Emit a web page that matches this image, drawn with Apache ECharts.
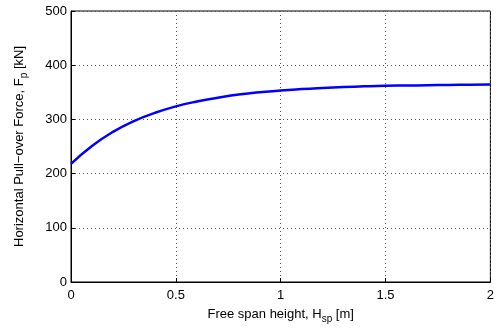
<!DOCTYPE html>
<html>
<head>
<meta charset="utf-8">
<script src="https://cdn.jsdelivr.net/npm/echarts@6/dist/echarts.min.js"></script>
<style>
  html, body { margin: 0; padding: 0; background: #fff; }
  #chart { width: 497px; height: 329px; }
</style>
</head>
<body>
<div id="chart"></div>
<script>
// free span height H_sp [m] vs horizontal pull-over force F_p [kN]
const spanHeight = [0, 0.1, 0.2, 0.3, 0.4, 0.5, 0.6, 0.7, 0.8, 0.9, 1.0,
  1.1, 1.2, 1.3, 1.4, 1.5, 1.6, 1.7, 1.8, 1.9, 2.0];
const pullForce = [218, 251, 277, 297, 312, 324, 333, 340, 346, 350, 353.5,
  356, 358, 359.7, 361, 362, 362.5, 363, 363.5, 364, 364.5];

const FONT = 'Liberation Sans, Arial, sans-serif';
const GRID_LINE = { lineStyle: { color: '#555', width: 1, type: [1, 3] } };
const SUB = { fontSize: 10, fontFamily: FONT, color: '#000', verticalAlign: 'top', padding: [9, 0, 0, 0] };

const chart = echarts.init(document.getElementById('chart'), null, { renderer: 'canvas' });

chart.setOption({
  animation: false,
  backgroundColor: '#fff',
  grid: {
    left: 71, right: 3, top: 11, bottom: 46,
    show: true, borderColor: '#000', borderWidth: 1, backgroundColor: 'transparent',
  },
  xAxis: {
    type: 'value',
    min: 0, max: 2, interval: 0.5,
    name: 'Free span height, H{sub|sp} [m]',
    nameLocation: 'middle',
    nameGap: 23,
    nameTextStyle: { fontSize: 13, fontFamily: FONT, color: '#000', rich: { sub: SUB } },
    axisLine: { show: true, lineStyle: { color: '#000', width: 1 } },
    axisTick: { show: true, inside: true, length: 4, lineStyle: { color: '#000' } },
    axisLabel: { fontSize: 13, fontFamily: FONT, color: '#000', margin: 7 },
    splitLine: { show: true, ...GRID_LINE },
  },
  yAxis: {
    type: 'value',
    min: 0, max: 500, interval: 100,
    name: 'Horizontal Pull\u2212over Force, F{sub|p} [kN]',
    nameLocation: 'middle',
    nameGap: 42,
    nameTextStyle: { fontSize: 13, fontFamily: FONT, color: '#000', rich: { sub: SUB } },
    axisLine: { show: true, lineStyle: { color: '#000', width: 1 } },
    axisTick: { show: true, inside: true, length: 4, lineStyle: { color: '#000' } },
    axisLabel: { fontSize: 13, fontFamily: FONT, color: '#000', margin: 4 },
    splitLine: { show: true, ...GRID_LINE },
  },
  series: [{
    type: 'line',
    data: spanHeight.map((h, i) => [h, pullForce[i]]),
    smooth: true,
    symbol: 'none',
    lineStyle: { color: '#0000ff', width: 2.5 },
  }],
});
</script>
</body>
</html>
